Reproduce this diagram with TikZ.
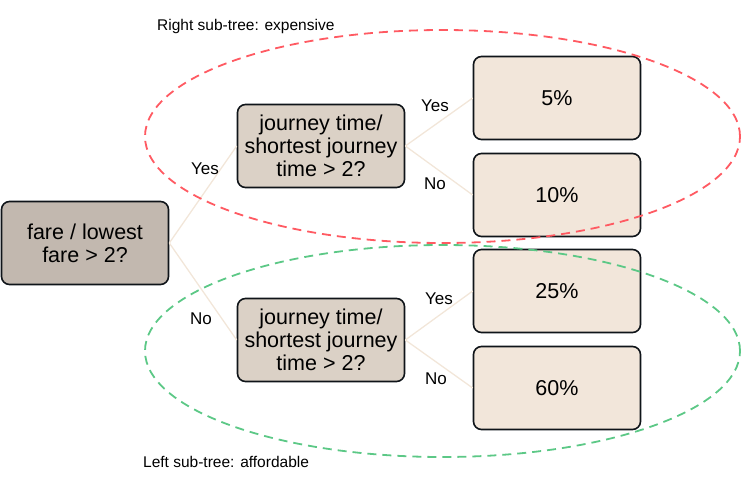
\documentclass[tikz,border=0pt]{standalone}
\usepackage{fontspec}
\setmainfont{Liberation Sans}
\usetikzlibrary{shapes.geometric}
\definecolor{rootfill}{HTML}{C2B8AF}
\definecolor{midfill}{HTML}{DBD1C6}
\definecolor{leaffill}{HTML}{F2E6DA}
\definecolor{boxline}{HTML}{0F1419}
\definecolor{edgecol}{HTML}{F2E6D9}
\definecolor{redgrp}{HTML}{FF5A62}
\definecolor{greengrp}{HTML}{5CC886}
\tikzset{
  box/.style={rectangle, rounded corners=8pt, draw=boxline, line width=1.6pt,
    minimum width=167pt, minimum height=83pt, inner sep=0pt, align=center,
    font=\fontsize{21.5}{23}\selectfont},
  rootbox/.style={box, fill=rootfill},
  midbox/.style={box, fill=midfill},
  leafbox/.style={box, fill=leaffill},
  conn/.style={draw=edgecol, line width=1.3pt},
  lbl/.style={font=\fontsize{17}{19}\selectfont, inner sep=0pt},
  captext/.style={font=\fontsize{15.5}{18}\selectfont, inner sep=0pt},
  grp/.style={ellipse, inner sep=0pt, minimum width=595pt, line width=1.8pt,
    dash pattern=on 9pt off 6pt},
}
\begin{document}
\begin{tikzpicture}[x=1pt, y=-1pt]
\useasboundingbox (0,0) rectangle (741,484);
\node[rootbox] (root) at (85,243) {fare / lowest\\fare > 2?};
\node[midbox] (m1) at (321,146) {journey time/\\shortest journey\\time > 2?};
\node[midbox] (m2) at (321,340) {journey time/\\shortest journey\\time > 2?};
\node[leafbox] (l1) at (557,98) {5\%};
\node[leafbox] (l2) at (557,195) {10\%};
\node[leafbox] (l3) at (557,291) {25\%};
\node[leafbox] (l4) at (557,388) {60\%};
\draw[conn] (root.east) -- (m1.west);
\draw[conn] (root.east) -- (m2.west);
\draw[conn] (m1.east) -- (l1.west);
\draw[conn] (m1.east) -- (l2.west);
\draw[conn] (m2.east) -- (l3.west);
\draw[conn] (m2.east) -- (l4.west);
\node[lbl] (y0) at (205,169) {Yes};
\node[lbl] (n0) at (201,319) {No};
\node[lbl] (y1) at (435,106) {Yes};
\node[lbl] (n1) at (435,184) {No};
\node[lbl] (y2) at (439,299) {Yes};
\node[lbl] (n2) at (436,379) {No};
\node[grp, draw=redgrp, minimum height=213pt] (rg) at (442.5,136.5) {};
\node[grp, draw=greengrp, minimum height=212pt] (gg) at (442.5,351) {};
\node[captext, anchor=base west] (rc) at (157,31) {Right sub-tree: expensive};
\node[captext, anchor=base west] (lc) at (143,467) {Left sub-tree: affordable};
\end{tikzpicture}
\end{document}
